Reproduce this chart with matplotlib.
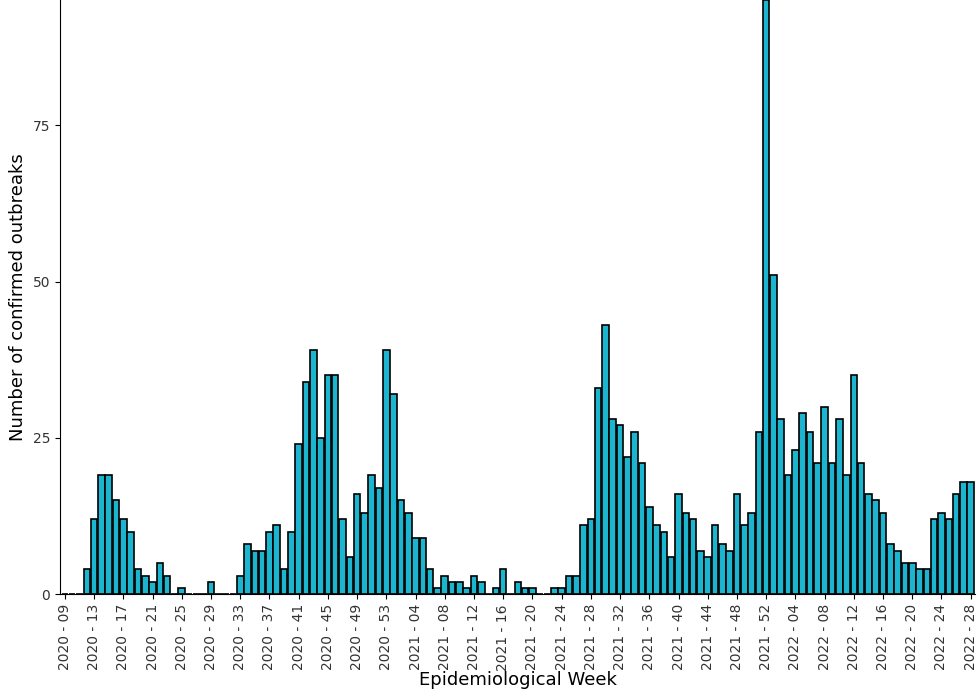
import matplotlib.pyplot as plt

counts_2020 = [0, 0, 0, 4, 12, 19, 19, 15, 12, 10, 4, 3, 2, 5, 3, 0, 1, 0, 0, 0, 2, 0, 0, 0,
               3, 8, 7, 7, 10, 11, 4, 10, 24, 34, 39, 25, 35, 35, 12, 6, 16, 13, 19, 17, 39]  # weeks 9-53
counts_2021 = [32, 15, 13, 9, 9, 4, 1, 3, 2, 2, 1, 3, 2, 0, 1, 4, 0, 2, 1, 1, 0, 0, 1, 1, 3, 3,
               11, 12, 33, 43, 28, 27, 22, 26, 21, 14, 11, 10, 6, 16, 13, 12, 7, 6, 11, 8, 7, 16,
               11, 13, 26, 95]  # weeks 1-52
counts_2022 = [51, 28, 19, 23, 29, 26, 21, 30, 21, 28, 19, 35, 21, 16, 15, 13, 8, 7, 5, 5, 4, 4,
               12, 13, 12, 16, 18, 18]  # weeks 1-28

weeks = ([f"2020 - {w:02d}" for w in range(9, 54)] +
         [f"2021 - {w:02d}" for w in range(1, 53)] +
         [f"2022 - {w:02d}" for w in range(1, 29)])
counts = counts_2020 + counts_2021 + counts_2022
x = list(range(len(weeks)))

fig = plt.figure(figsize=(9.8, 7), dpi=100)
ax = fig.add_axes([0.061, 0.151, 0.934, 0.849])
ax.bar(x, counts, width=0.9, color='#1cb5cf', edgecolor='black', linewidth=1.2)

ax.set_xticks(x[::4])
ax.set_xticklabels(weeks[::4], rotation=90, fontsize=10, color='#333333')
ax.set_xlim(-0.7, len(x) - 0.4)
ax.set_ylim(0, 95)
ax.set_yticks([0, 25, 50, 75])
ax.tick_params(axis='y', labelsize=10, labelcolor='#333333')
ax.spines['top'].set_visible(False)
ax.spines['right'].set_visible(False)
ax.set_xlabel('Epidemiological Week', fontsize=13, labelpad=0)
ax.set_ylabel('Number of confirmed outbreaks', fontsize=13)

fig.savefig('out.png', dpi=100)
